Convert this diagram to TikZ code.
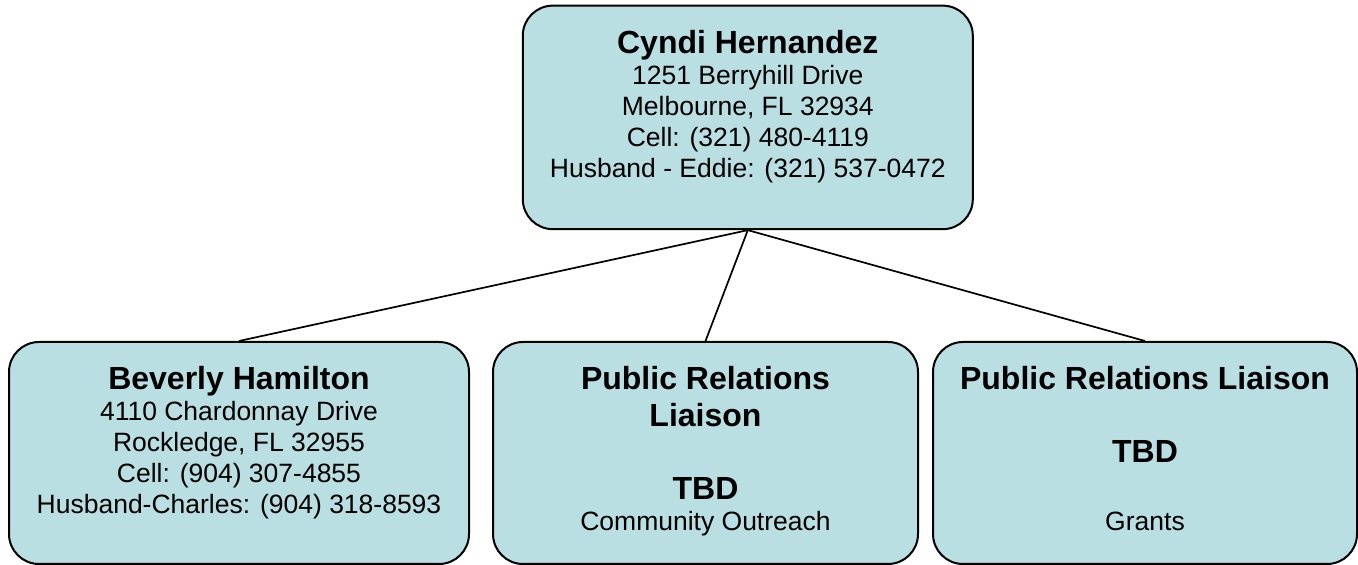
\documentclass[tikz,border=0pt]{standalone}
\usepackage{fontspec}
\setmainfont{Liberation Sans}
\usetikzlibrary{positioning}
\definecolor{boxblue}{RGB}{185,223,227}
\newcommand{\hd}[1]{{\bfseries\fontsize{32}{37}\selectfont #1}}
\begin{document}
\begin{tikzpicture}[x=1pt,y=1pt,
  member/.style={draw=black,line width=2pt,fill=boxblue,rounded corners=30pt,minimum height=222pt},
  info/.style={inner sep=0pt,align=center,font=\fontsize{26.5}{31}\selectfont},
  link/.style={line width=1.7pt}]
\useasboundingbox (0,0) rectangle (1358,565);

\node at (747.8,447.6) [member,minimum width=450pt,minimum height=223.5pt] (chair) {};
\node at (239,112) [member,minimum width=460pt] (beverly) {};
\node at (705.5,112) [member,minimum width=425pt] (outreach) {};
\node at (1145,112) [member,minimum width=424pt] (grants) {};

\node [info,below=25.5pt of chair.north] (chairText) {\hd{Cyndi Hernandez}\\1251 Berryhill Drive\\Melbourne, FL 32934\\Cell: (321) 480-4119\\Husband - Eddie: (321) 537-0472};
\node [info,below=25.5pt of beverly.north] (beverlyText) {\hd{Beverly Hamilton}\\4110 Chardonnay Drive\\Rockledge, FL 32955\\Cell: (904) 307-4855\\Husband-Charles: (904) 318-8593};
\node [info,below=25.5pt of outreach.north] (outreachText) {\hd{Public Relations}\\[6pt]\hd{Liaison}\\[42pt]\hd{TBD}\\Community Outreach};
\node [info,below=25.5pt of grants.north] (grantsText) {\hd{Public Relations Liaison}\\[42pt]\hd{TBD}\\[37pt]Grants};

\draw [link] (chair.south) -- (beverly.north);
\draw [link] (chair.south) -- (outreach.north);
\draw [link] (chair.south) -- (grants.north);

\end{tikzpicture}
\end{document}
